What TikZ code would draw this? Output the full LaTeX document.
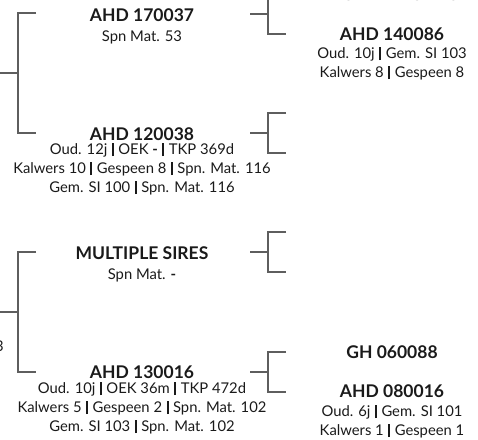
\documentclass[tikz,border=0pt]{standalone}
\usepackage{fontspec}
\setmainfont{Lato}
\definecolor{linegray}{HTML}{5E5E5E}
\definecolor{textblack}{HTML}{1A1A1A}
\newcommand{\sepbar}{\hspace{4.5pt}\rule[-2pt]{2pt}{13pt}\hspace{4.5pt}}
\newcommand{\boldash}{{\bfseries -}}
\begin{document}
\begin{tikzpicture}[x=1pt,y=-1pt,line width=1.4pt]
  \tikzset{
    animal/.style={font=\bfseries\fontsize{17.5}{20}\selectfont,text=textblack,inner sep=0pt,anchor=base},
    info/.style={font=\fontsize{14.8}{18}\selectfont,text=textblack,inner sep=0pt,anchor=base},
    branch/.style={draw=linegray,line width=1.4pt}
  }
  \useasboundingbox (0,0) rectangle (478,439);
  % brackets: join x / join y / half height / name
  \foreach \x/\y/\d/\n in {18/73/60/la, 18/312/60/lb, 268/14/20/ra, 268/133/20/rb, 268/252/20/rc, 268/372/20/rd} {
    \coordinate (\n-in) at (\x-18,\y);
    \coordinate (\n-j) at (\x,\y);
    \coordinate (\n-up) at (\x+18,\y-\d);
    \coordinate (\n-dn) at (\x+18,\y+\d);
    \draw[branch] (\n-in) -- (\n-j);
    \draw[branch] (\n-up) -| (\n-j) |- (\n-dn);
  }
  % left column
  \node[animal] (a170037) at (142,21) {AHD 170037};
  \node[info] (a170037-1) at (142,41) {Spn Mat. 53};
  \node[animal] (a120038) at (142,140) {AHD 120038};
  \node[info] (a120038-1) at (142,154) {Oud. 12j\sepbar OEK \boldash\sepbar TKP 369d};
  \node[info] (a120038-2) at (142,173) {Kalwers 10\sepbar Gespeen 8\sepbar Spn. Mat. 116};
  \node[info] (a120038-3) at (142,192) {Gem. SI 100\sepbar Spn. Mat. 116};
  \node[animal] (msires) at (142,259) {MULTIPLE SIRES};
  \node[info] (msires-1) at (142,279) {Spn Mat. \boldash};
  \node[animal] (a130016) at (142,378) {AHD 130016};
  \node[info] (a130016-1) at (142,393) {Oud. 10j\sepbar OEK 36m\sepbar TKP 472d};
  \node[info] (a130016-2) at (142,412) {Kalwers 5\sepbar Gespeen 2\sepbar Spn. Mat. 102};
  \node[info] (a130016-3) at (142,431) {Gem. SI 103\sepbar Spn. Mat. 102};
  \node[info,anchor=base east] (cut) at (4.5,351) {3};
  % right column
  \node[animal] (msires2) at (392,1) {MULTIPLE SIRES};
  \node[animal] (a140086) at (392,40) {AHD 140086};
  \node[info] (a140086-1) at (392,58) {Oud. 10j\sepbar Gem. SI 103};
  \node[info] (a140086-2) at (392,77) {Kalwers 8\sepbar Gespeen 8};
  \node[animal] (g060088) at (392,358) {GH 060088};
  \node[animal] (a080016) at (392,397) {AHD 080016};
  \node[info] (a080016-1) at (392,416) {Oud. 6j\sepbar Gem. SI 101};
  \node[info] (a080016-2) at (392,435) {Kalwers 1\sepbar Gespeen 1};
\end{tikzpicture}
\end{document}
